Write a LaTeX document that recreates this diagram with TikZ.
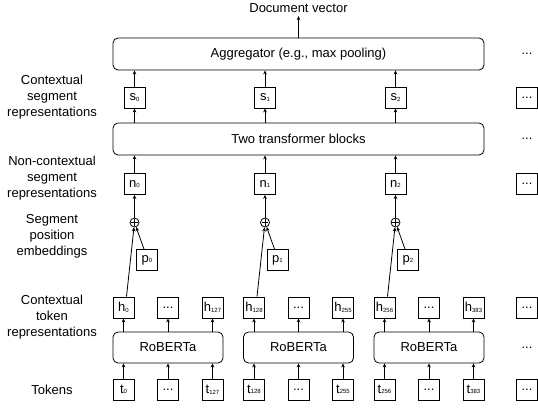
\documentclass[tikz,border=0pt]{standalone}
\usepackage{fontspec}
\setmainfont{Liberation Sans}
\usepackage{tikz}
\usetikzlibrary{arrows.meta, positioning}

\newcommand{\subidx}[2]{#1\raisebox{-0.6pt}{\fontsize{6}{6}\selectfont #2}}

\tikzset{
    cell/.style={draw, line width=0.8pt, minimum width=21pt, minimum height=21pt, inner sep=1pt},
    block/.style={draw, line width=0.8pt, rounded corners=5pt},
    lab/.style={align=center},
    link/.style={-{Stealth[length=4pt, width=3.6pt]}, line width=0.8pt},
}

\begin{document}
\begin{tikzpicture}[x=1pt, y=-1pt, font=\fontsize{13}{16}\selectfont]
\useasboundingbox (0,0) rectangle (538,410);

% Tokens, RoBERTa encoders and token representations
\foreach \g/\first/\last in {0/0/127, 1/128/255, 2/256/383} {
    \pgfmathsetmacro{\gx}{113+130.5*\g}
    \node[block, minimum width=110pt, minimum height=31pt] (rob\g) at ({\gx+55},347.5) {RoBERTa};

    \node[cell] (tl\g) at ({\gx+10.5},389.5) {\subidx{t}{\first}};
    \node[cell] (tm\g) at ({\gx+55},389.5) {...};
    \node[cell] (tr\g) at ({\gx+99.5},389.5) {\subidx{t}{\last}};

    \node[cell] (hl\g) at ({\gx+10.5},307.5) {\subidx{h}{\first}};
    \node[cell] (hm\g) at ({\gx+55},307.5) {...};
    \node[cell] (hr\g) at ({\gx+99.5},307.5) {\subidx{h}{\last}};

    \foreach \k in {l,m,r} {
        \draw[link] (t\k\g.north) -- (t\k\g.north |- rob\g.south);
        \draw[link] (h\k\g.south |- rob\g.north) -- (h\k\g.south);
    }

    % Segment level
    \node[circle, draw, line width=0.8pt, inner sep=0pt, minimum size=9pt] (plus\g) at ({\gx+21.5},222.5) {};
    \draw[line width=0.7pt, shorten <=1.6pt, shorten >=1.6pt] (plus\g.north) -- (plus\g.south);
    \draw[line width=0.7pt, shorten <=1.6pt, shorten >=1.6pt] (plus\g.west) -- (plus\g.east);
    \node[cell] (p\g) at ({\gx+34},260) {\subidx{p}{\g}};
    \node[cell] (n\g) at ({\gx+21.5},184) {\subidx{n}{\g}};
    \node[cell] (s\g) at ({\gx+21.5},97.5) {\subidx{s}{\g}};

    \draw[link] ([xshift=3pt]hl\g.north) -- (plus\g);
    \draw[link] ([xshift=-3pt]p\g.north) -- (plus\g);
    \draw[link] (plus\g) -- (n\g);
}

% Document level
\node[block, minimum width=371pt, minimum height=32pt] (trf) at (298.5,139) {Two transformer blocks};
\node[block, minimum width=371pt, minimum height=32pt] (agg) at (298.5,54) {Aggregator (e.g., max pooling)};
\node (doc) at (298.5,8) {Document vector};

\foreach \g in {0,1,2} {
    \draw[link] (n\g.north) -- (n\g.north |- trf.south);
    \draw[link] (s\g.south |- trf.north) -- (s\g.south);
    \draw[link] (s\g.north) -- (s\g.north |- agg.south);
}
\draw[link] (agg.north) -- (doc.south);

% Further segments
\node[cell] (tx) at (527,389.5) {...};
\node (robx) at (527,347.5) {...};
\node[cell] (hx) at (527,307.5) {...};
\node[cell] (nx) at (527,184) {...};
\node (trfx) at (527,139) {...};
\node[cell] (sx) at (527,97.5) {...};
\node (aggx) at (527,54) {...};

% Row labels
\node[lab] (labs) at (52,97) {Contextual\\segment\\representations};
\node[lab] (labn) at (52,178) {Non-contextual\\segment\\representations};
\node[lab] (labp) at (52,236) {Segment\\position\\embeddings};
\node[lab] (labh) at (52,317) {Contextual\\token\\representations};
\node[lab] (labt) at (52,390) {Tokens};
\end{tikzpicture}
\end{document}
